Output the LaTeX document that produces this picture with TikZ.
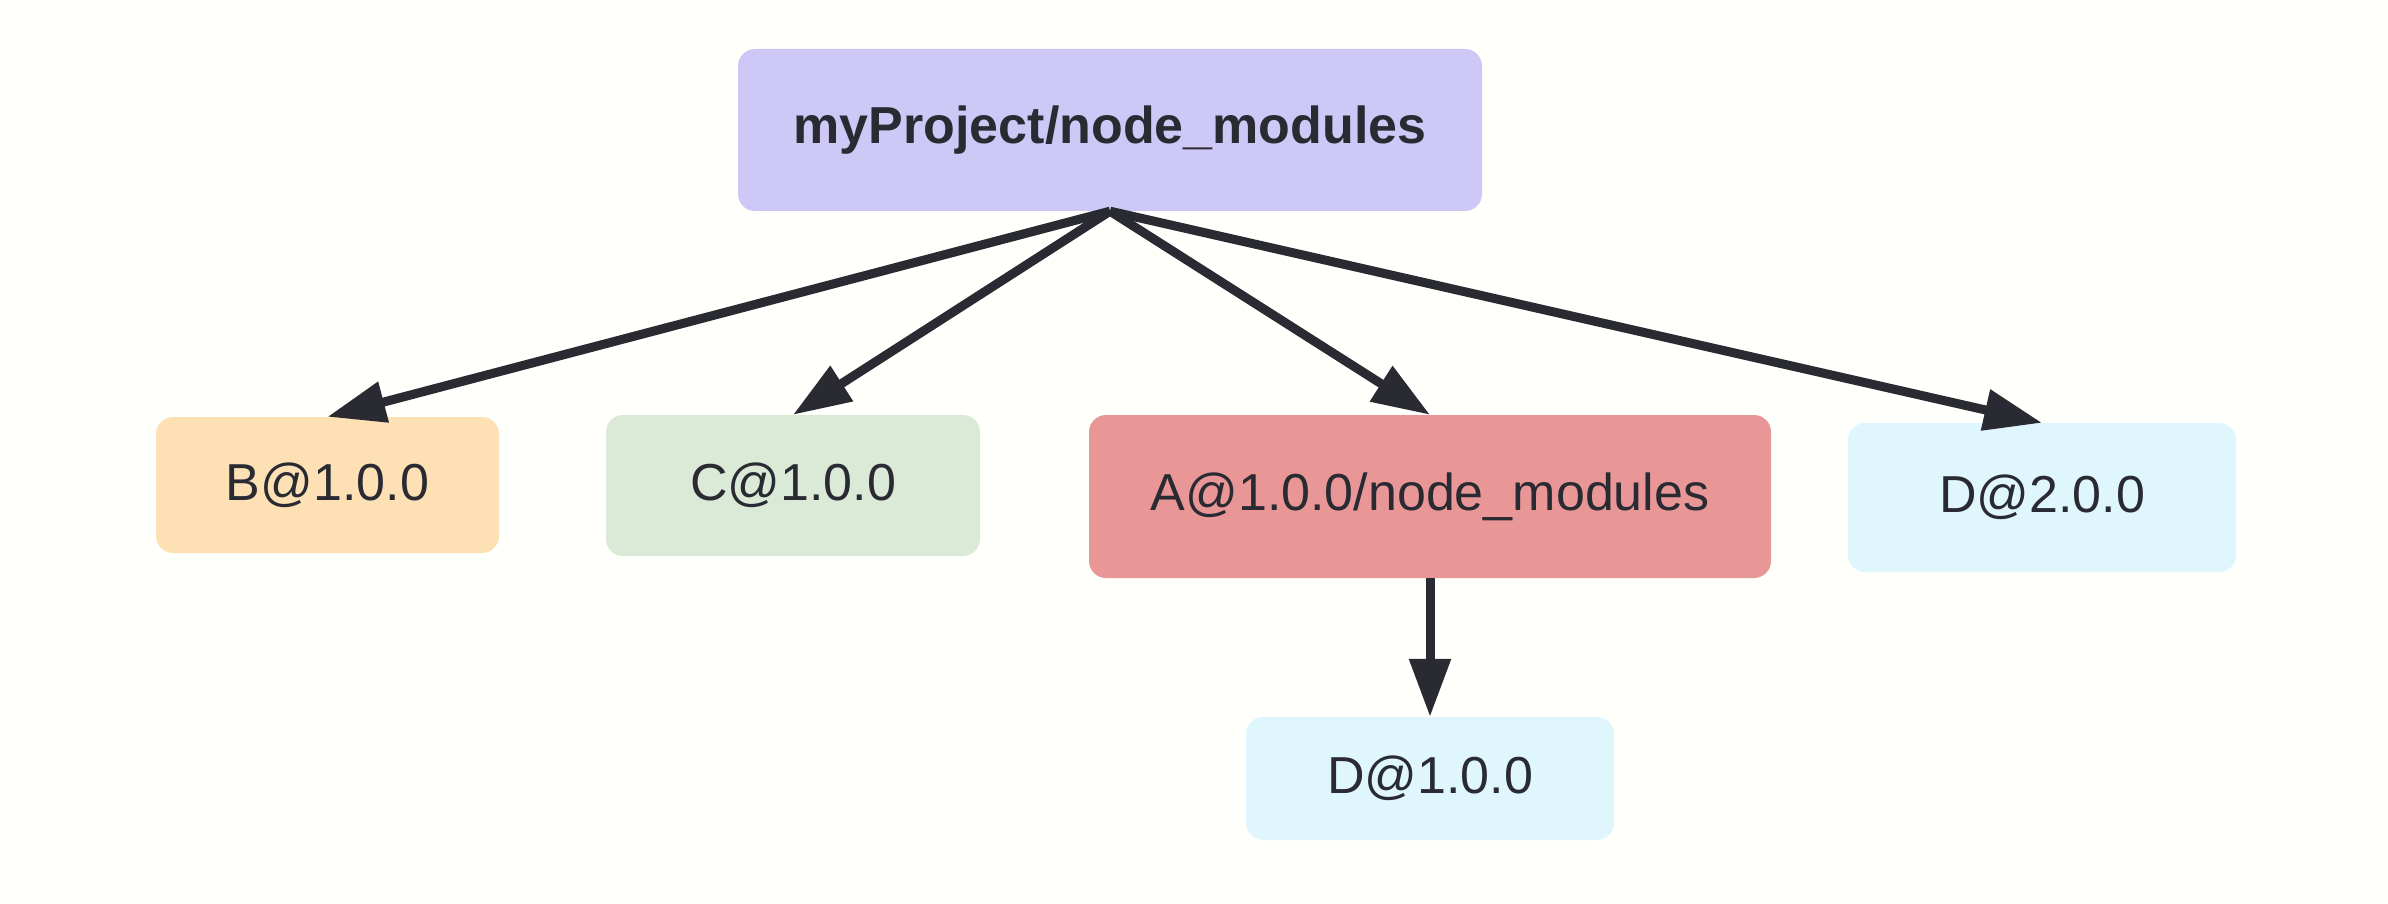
\documentclass[tikz,border=0pt]{standalone}
\usepackage{fontspec}
\setmainfont{Liberation Sans}
\usetikzlibrary{arrows.meta}
\definecolor{bgc}{HTML}{FFFFFC}
\definecolor{inkc}{HTML}{2A2A33}
\definecolor{topc}{HTML}{CEC8F6}
\definecolor{bc}{HTML}{FDE1B5}
\definecolor{cc}{HTML}{DAEAD6}
\definecolor{ac}{HTML}{E89696}
\definecolor{dc}{HTML}{DFF7FC}
\tikzset{
  box/.style={rectangle, rounded corners=17pt, draw=none, inner sep=0pt,
    text=inkc, font=\fontsize{52}{60}\selectfont},
  link/.style={draw=inkc, line width=9pt,
    -{Triangle[length=58pt, width=40pt]}},
}
\begin{document}
\begin{tikzpicture}[x=1pt, y=-1pt]
\fill[bgc] (0,0) rectangle (2388,904);
\useasboundingbox (0,0) rectangle (2388,904);
\node[box, fill=topc, minimum width=744pt, minimum height=162pt,
  font=\fontsize{52}{60}\selectfont\bfseries] (top) at (1110,130) {myProject/node\_modules};
\node[box, fill=bc, minimum width=343pt, minimum height=136pt] (b) at (327.5,485) {B@1.0.0};
\node[box, fill=cc, minimum width=374pt, minimum height=141pt] (c) at (793,485.5) {C@1.0.0};
\node[box, fill=ac, minimum width=682pt, minimum height=163pt] (a) at (1430,496.5) {A@1.0.0/node\_modules};
\node[box, fill=dc, minimum width=388pt, minimum height=149pt] (d2) at (2042,497.5) {D@2.0.0};
\node[box, fill=dc, minimum width=368pt, minimum height=123pt] (d1) at (1430,778.5) {D@1.0.0};
\draw[link] (top.south) -- (b.north);
\draw[link] (top.south) -- (c.north);
\draw[link] (top.south) -- (a.north);
\draw[link] (top.south) -- (d2.north);
\draw[link] (a.south) -- (d1.north);
\end{tikzpicture}
\end{document}
